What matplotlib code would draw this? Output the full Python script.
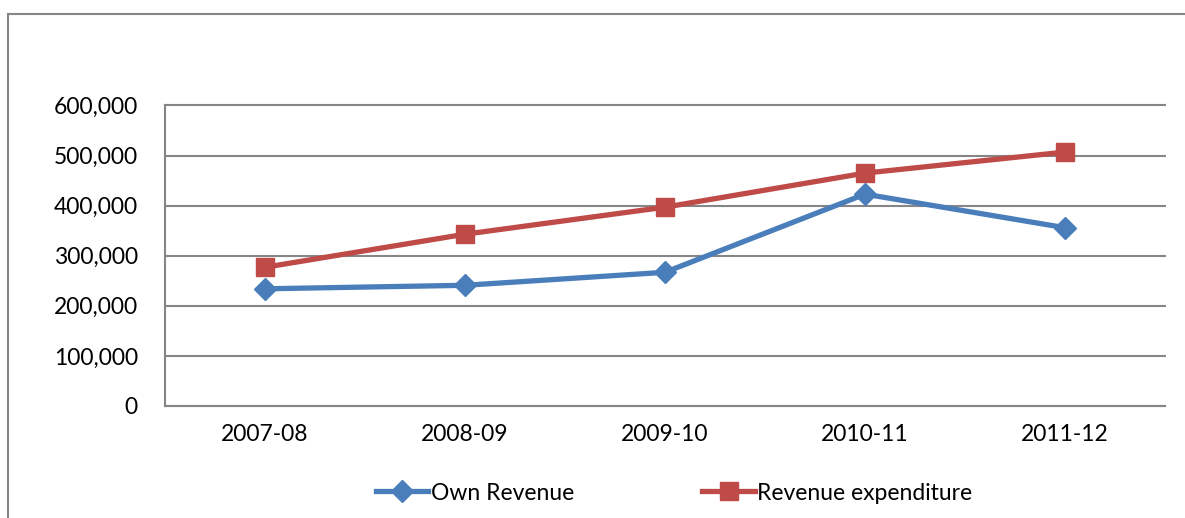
import matplotlib
matplotlib.use("Agg")
import matplotlib.pyplot as plt
from matplotlib.ticker import FuncFormatter

years = ["2007-08", "2008-09", "2009-10", "2010-11", "2011-12"]
own_revenue = [234000, 241000, 267000, 423000, 356000]
revenue_expenditure = [277000, 343000, 397000, 465000, 507000]
yticks = [0, 100000, 200000, 300000, 400000, 500000, 600000]

plt.rcParams['font.family'] = ['Lato', 'DejaVu Sans']

W, H = 1185, 518
fig = plt.figure(figsize=(W / 100, H / 100), dpi=100)
fig.patch.set_facecolor("white")

# outer chart frame (left and top edges visible)
fig.add_artist(plt.Line2D([8 / W, 8 / W], [0, 1 - 14 / H], transform=fig.transFigure,
                          color="#868686", lw=1.5))
fig.add_artist(plt.Line2D([8 / W, 1], [1 - 14 / H, 1 - 14 / H], transform=fig.transFigure,
                          color="#868686", lw=1.5))

ax = fig.add_axes([165 / W, 1 - 406 / H, 1000 / W, (406 - 105.5) / H])
x = list(range(len(years)))
blue = "#4A7EBB"
red = "#BE4B48"
ax.plot(x, own_revenue, color=blue, lw=3.8, marker="D", markersize=11,
        markeredgecolor=blue, label="Own Revenue", zorder=3)
ax.plot(x, revenue_expenditure, color=red, lw=3.8, marker="s", markersize=13,
        markeredgecolor=red, label="Revenue expenditure", zorder=3)

ax.set_xlim(-0.5, len(years) - 0.5)
ax.set_ylim(0, 600000)
ax.set_yticks(yticks)
ax.yaxis.set_major_formatter(FuncFormatter(lambda v, p: f"{int(v):,}"))
ax.set_xticks(x)
ax.set_xticklabels(years)
ax.grid(axis="y", color="#868686", lw=1.5)
for gl in ax.get_ygridlines():
    gl.set_clip_on(False)
ax.set_axisbelow(True)
for s in ["top", "right"]:
    ax.spines[s].set_visible(False)
for s in ["left", "bottom"]:
    ax.spines[s].set_color("#868686")
    ax.spines[s].set_linewidth(1.5)
ax.tick_params(axis="both", length=0, labelsize=16.5, colors="black")
ax.tick_params(axis="y", pad=19.5)
ax.tick_params(axis="x", pad=13)

leg = fig.legend(loc="center", bbox_to_anchor=(674 / W, 1 - 493 / H), ncol=2,
                 frameon=False, fontsize=16.5, handlelength=2.3, handletextpad=0.1,
                 columnspacing=5.6)

fig.savefig("out.png", dpi=100, facecolor="white")
